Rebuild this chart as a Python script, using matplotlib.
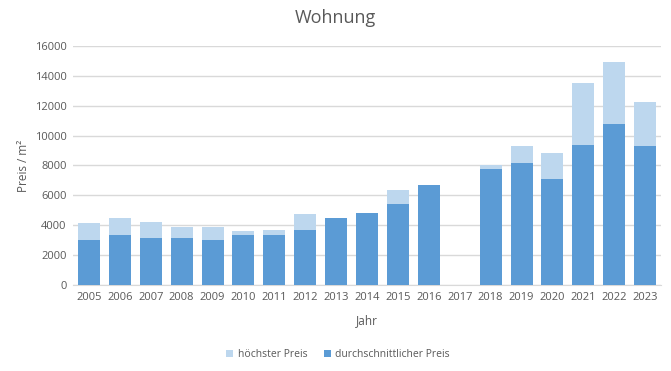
import matplotlib
matplotlib.use("Agg")
import matplotlib.pyplot as plt
import numpy as np

years = ["2005", "2006", "2007", "2008", "2009", "2010", "2011", "2012", "2013", "2014",
         "2015", "2016", "2017", "2018", "2019", "2020", "2021", "2022", "2023"]
hoechster = [4170, 4500, 4230, 3900, 3900, 3630, 3700, 4770, 4500, 4830,
             6370, 6700, 0, 8040, 9310, 8850, 13520, 14930, 12250]
durchschnitt = [3030, 3360, 3160, 3160, 3030, 3360, 3360, 3700, 4500, 4830,
                5440, 6700, 0, 7780, 8180, 7110, 9380, 10780, 9310]
yticks = [0, 2000, 4000, 6000, 8000, 10000, 12000, 14000, 16000]

plt.rcParams['font.family'] = ['Open Sans', 'DejaVu Sans']
text_col = '#595959'

fig = plt.figure(figsize=(6.71, 3.71), dpi=100)
ax = fig.add_axes([0.1095, 0.232, 0.875, 0.644])

x = np.arange(len(years))
w = 0.71
ax.bar(x, hoechster, width=w, color='#BDD7EE', label='höchster Preis', zorder=2)
ax.bar(x, durchschnitt, width=w, color='#5B9BD5', label='durchschnittlicher Preis', zorder=3)

ax.set_xlim(-0.5, len(years) - 0.5)
ax.set_ylim(0, 16000)
ax.set_yticks(yticks)
ax.set_yticklabels([str(v) for v in yticks])
ax.set_xticks(x)
ax.set_xticklabels(years)
ax.yaxis.grid(True, color='#D9D9D9', linewidth=1, zorder=0)
ax.set_axisbelow(True)
for s in ['top', 'right', 'left']:
    ax.spines[s].set_visible(False)
ax.spines['bottom'].set_color('#D9D9D9')
ax.tick_params(axis='both', length=0, labelsize=8, colors=text_col, pad=5)

ax.set_xlabel('Jahr', fontsize=8.5, color=text_col, labelpad=8)
ax.set_ylabel('Preis / m²', fontsize=8.5, color=text_col, labelpad=3)
fig.text(335 / 671, 1 - 18 / 371, 'Wohnung', ha='center', va='center', fontsize=13, color=text_col)

leg = fig.legend(loc='center', bbox_to_anchor=(338 / 671, 0.045), ncol=2, frameon=False,
                 fontsize=7.5, handlelength=0.7, handleheight=0.7, handletextpad=0.4,
                 columnspacing=1.6, labelcolor=text_col)

fig.savefig('out.png', dpi=100)
